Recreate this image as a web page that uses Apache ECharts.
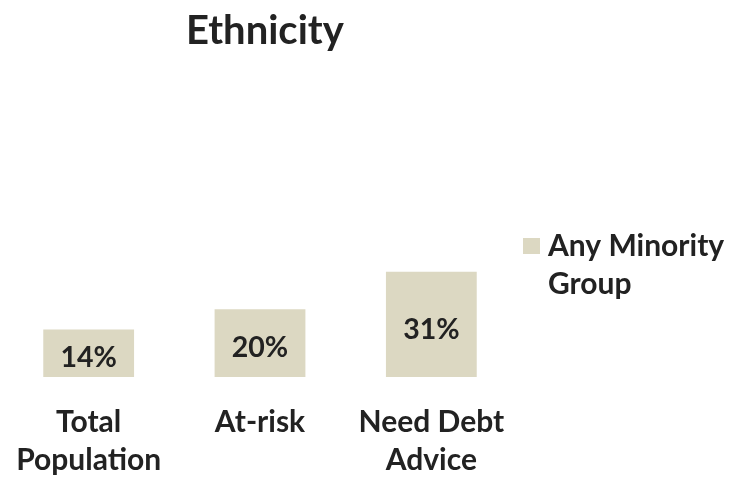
<!DOCTYPE html>
<html>
<head>
<meta charset="utf-8">
<script src="https://cdn.jsdelivr.net/npm/echarts@6/dist/echarts.min.js"></script>
<style>
  html, body { margin: 0; padding: 0; background: #ffffff; }
  #chart { width: 729px; height: 479px; }
</style>
</head>
<body>
<div id="chart"></div>
<script>
// Share of each group belonging to any minority ethnic group (%)
const categories = ['Total\nPopulation', 'At-risk', 'Need Debt\nAdvice'];
const minorityShare = [14, 20, 31];
const seriesName = 'Any Minority Group';
const titleText = 'Ethnicity';

const FONT = 'Lato, "Open Sans", sans-serif';
const INK = '#222222';
const BAR = '#DCD8C2';

// Legend swatch: a 17x16 square sitting at the top of a 17x54 box, so it
// lines up with the first line of the two-line legend label.
const SWATCH = 'path://M0,0H17V16H0Z M0,54H17';

const chart = echarts.init(document.getElementById('chart'), null, { renderer: 'canvas' });

chart.setOption({
  backgroundColor: '#ffffff',
  animation: false,
  title: {
    text: titleText,
    left: 186,
    top: 11,
    padding: 0,
    textStyle: { fontFamily: FONT, fontWeight: 'bold', fontSize: 40, color: INK }
  },
  legend: {
    left: 523,
    top: 227,
    padding: 0,
    itemWidth: 17,
    itemHeight: 54,
    itemGap: 0,
    icon: SWATCH,
    data: [seriesName],
    formatter: () => 'Any Minority\nGroup',
    textStyle: {
      fontFamily: FONT, fontWeight: 'bold', fontSize: 30, color: INK,
      lineHeight: 38, padding: [0, 0, 0, 3]
    }
  },
  grid: { left: 3, right: 212, top: 173.4, bottom: 98, containLabel: false },
  xAxis: {
    type: 'category',
    data: categories,
    axisLine: { show: false },
    axisTick: { show: false },
    axisLabel: {
      interval: 0,
      margin: 26,
      fontFamily: FONT, fontWeight: 'bold', fontSize: 30, color: INK,
      lineHeight: 38
    }
  },
  yAxis: {
    type: 'value',
    min: 0,
    max: 60,
    show: false,
    splitLine: { show: false }
  },
  series: [{
    name: seriesName,
    type: 'bar',
    data: minorityShare,
    barWidth: '53%',
    itemStyle: { color: BAR },
    label: {
      show: true,
      position: 'inside',
      offset: [0, 5],
      formatter: p => p.value + '%',
      fontFamily: FONT, fontWeight: 'bold', fontSize: 28.5, color: INK
    }
  }]
});
</script>
</body>
</html>
